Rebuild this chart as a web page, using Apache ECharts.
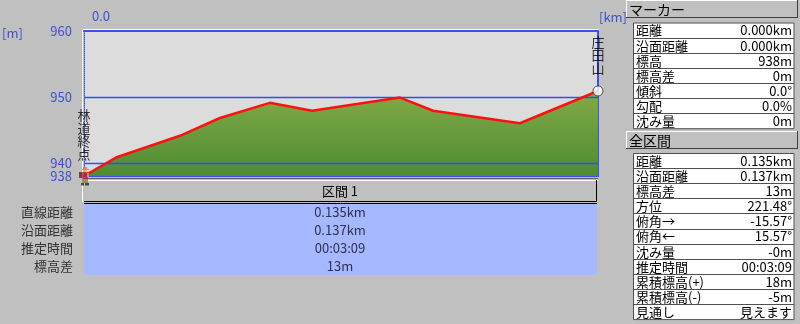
<!DOCTYPE html>
<html><head><meta charset="utf-8">
<script src="https://cdn.jsdelivr.net/npm/echarts@6/dist/echarts.min.js"></script>
<style>html,body{margin:0;padding:0;background:#c0c0c0;}#c{width:800px;height:324px;}</style>
</head><body><div id="c"></div>
<script>
// ---- data ----
const distanceKm = [0, 0.0084, 0.0252, 0.0357, 0.0488, 0.0599, 0.0712, 0.0830, 0.0917, 0.1145, 0.1350];
const elevationM = [938, 940.8, 944.1, 946.8, 949.1, 947.9, 948.9, 949.9, 947.9, 946.0, 950.9];
const yTickValues = [938, 940, 950, 960];
const gridLineValues = [940, 950];
const xTickLabels = ['0.0'];
const endNames = ['林道終点', '庄田山'];
const sectionTitle = '区間 1';
const sectionLabels = ['直線距離', '沿面距離', '推定時間', '標高差'];
const sectionValues = ['0.135km', '0.137km', '00:03:09', '13m'];
const markerTitle = 'マーカー';
const markerLabels = ['距離', '沿面距離', '標高', '標高差', '傾斜', '勾配', '沈み量'];
const markerValues = ['0.000km', '0.000km', '938m', '0m', '0.0°', '0.0%', '0m'];
const totalTitle = '全区間';
const totalLabels = ['距離', '沿面距離', '標高差', '方位', '俯角→', '俯角←', '沈み量', '推定時間', '累積標高(+)', '累積標高(-)', '見通し'];
const totalValues = ['0.135km', '0.137km', '13m', '221.48°', '-15.57°', '15.57°', '-0m', '00:03:09', '18m', '-5m', '見えます'];

const FONT = '"Noto Sans CJK JP", "Noto Sans", sans-serif';
const BLUE = '#3a4ff0';
const GRID_BLUE = '#2f4cff';
const LABEL_BLUE = '#3f50cc';

const hikerSvg = "<svg xmlns='http://www.w3.org/2000/svg' width='12' height='19' shape-rendering='crispEdges'>" +
  "<rect x='5' y='0' width='4' height='2' fill='#e8801c'/>" +
  "<rect x='4' y='2' width='7' height='1' fill='#e8801c'/>" +
  "<rect x='5' y='3' width='4' height='2' fill='#f0b080'/>" +
  "<rect x='1' y='5' width='4' height='6' fill='#6a1a22'/>" +
  "<rect x='4' y='5' width='6' height='7' fill='#c02030'/>" +
  "<rect x='9' y='6' width='2' height='4' fill='#e0a070'/>" +
  "<rect x='4' y='12' width='6' height='4' fill='#8c7a5a'/>" +
  "<rect x='3' y='16' width='3' height='3' fill='#302418'/>" +
  "<rect x='7' y='16' width='4' height='3' fill='#302418'/>" +
  "</svg>";
const hikerSymbol = 'image://data:image/svg+xml;charset=utf-8,' + encodeURIComponent(hikerSvg);

const profile = distanceKm.map((d, i) => [d, elevationM[i]]);
const last = profile.length - 1;

const graphics = [];
function txt(x, y, s, o) {
  graphics.push({type: 'text', x: x, y: y, silent: true, z: 100,
    style: Object.assign({text: s, font: '13px ' + FONT, fill: '#000', textVerticalAlign: 'middle', textAlign: 'left'}, o || {})});
}
function rect(x, y, w, h, fill, stroke) {
  graphics.push({type: 'rect', shape: {x: x, y: y, width: w, height: h}, silent: true, z: 90,
    style: {fill: fill, stroke: stroke || null, lineWidth: 1}});
}
function line(x1, y1, x2, y2, color, w) {
  graphics.push({type: 'line', shape: {x1: x1, y1: y1, x2: x2, y2: y2}, silent: true, z: 95,
    style: {stroke: color, lineWidth: w || 1}});
}

// unit labels
txt(2, 33, '[m]', {fill: LABEL_BLUE});
txt(599, 17, '[km]', {fill: LABEL_BLUE});

// plot bevel
line(83, 29.5, 599, 29.5, '#ffffff');
line(82.5, 30, 82.5, 202, '#ffffff');
line(84, 178.5, 598, 178.5, '#606060');
line(84, 180.5, 598, 180.5, '#ffffff');

// section header and box
rect(84.5, 181, 511.5, 20, '#c0c0c0');
line(596.5, 180, 596.5, 202, '#000000');
line(84, 201.5, 597, 201.5, '#000000');
txt(340, 191, sectionTitle, {textAlign: 'center'});
rect(84, 203, 513, 72, '#a6b8ff');
line(84, 203.5, 597, 203.5, '#000000');
const secY = [212.5, 230.5, 248, 266];
sectionLabels.forEach((s, i) => txt(73, secY[i], s, {textAlign: 'right', fill: '#333333'}));
sectionValues.forEach((s, i) => txt(340, secY[i], s, {textAlign: 'center', fill: '#303050'}));

// right panels
function header(y, h, title) {
  rect(626, y, 172, h, '#c0c0c0');
  line(626, y + 0.5, 798, y + 0.5, '#ffffff');
  line(626.5, y, 626.5, y + h, '#ffffff');
  line(626, y + h - 0.5, 798, y + h - 0.5, '#404040');
  line(797.5, y, 797.5, y + h, '#404040');
  txt(629, y + h / 2 + 0.5, title, {font: '14px ' + FONT});
}
function table(top, labels, values) {
  const rh = 15.1;
  rect(633.5, top + 0.5, 160.5, rh * labels.length, '#ffffff', '#505050');
  labels.forEach((s, i) => {
    const y = top + rh * i;
    if (i > 0) line(634, Math.round(y) + 0.5, 794, Math.round(y) + 0.5, '#505050');
    txt(636, y + rh / 2 + 0.5, s);
    txt(792, y + rh / 2 + 0.5, values[i], {textAlign: 'right'});
  });
}
header(0, 18, markerTitle);
table(22.5, markerLabels, markerValues);
header(131, 18, totalTitle);
table(153, totalLabels, totalValues);

const option = {
  backgroundColor: '#c0c0c0',
  animation: false,
  textStyle: {fontFamily: FONT},
  grid: {left: 84, right: 202, top: 31, bottom: 148, show: true, backgroundColor: '#dcdcdc', borderWidth: 0},
  xAxis: [
    {type: 'value', min: 0, max: 0.135, position: 'bottom',
      axisLine: {show: true, onZero: false, lineStyle: {color: BLUE, width: 2}},
      axisTick: {show: false}, axisLabel: {show: false}, splitLine: {show: false}},
    {type: 'value', min: 0, max: 0.135, position: 'top',
      axisLine: {show: true, onZero: false, lineStyle: {color: BLUE, width: 2}},
      axisTick: {show: false}, splitLine: {show: false},
      axisLabel: {show: true, customValues: [0], formatter: () => xTickLabels[0], color: LABEL_BLUE,
        fontSize: 13, fontFamily: FONT, align: 'left', padding: [0, 0, 0, 8], margin: 8}}
  ],
  yAxis: [
    {type: 'value', min: 938, max: 960, position: 'left',
      axisLine: {show: true, onZero: false, lineStyle: {color: BLUE, width: 1, type: [1, 1]}},
      axisTick: {show: false}, splitLine: {show: false},
      axisLabel: {show: true, customValues: yTickValues, color: LABEL_BLUE, fontSize: 13, fontFamily: FONT, margin: 12}},
    {type: 'value', min: 938, max: 960, position: 'right',
      axisLine: {show: true, onZero: false, lineStyle: {color: BLUE, width: 2}},
      axisTick: {show: false}, splitLine: {show: false}, axisLabel: {show: false}}
  ],
  series: [
    {type: 'line', data: profile, symbol: 'none', z: 2,
      lineStyle: {width: 0},
      areaStyle: {origin: 'start', opacity: 1,
        color: new echarts.graphic.LinearGradient(0, 0, 0, 1, [{offset: 0, color: '#82aa45'}, {offset: 1, color: '#4f8b35'}])},
      markLine: {silent: true, symbol: 'none', label: {show: false}, z: 5,
        lineStyle: {color: GRID_BLUE, width: 1.3, type: 'solid'},
        data: gridLineValues.map(v => ({yAxis: v}))}},
    {type: 'line', data: profile, symbol: 'none', z: 8,
      lineStyle: {color: '#ff1010', width: 2.5}},
    {type: 'scatter', z: 120, clip: false,
      label: {show: true, position: 'top', color: '#000', fontSize: 13, fontFamily: FONT, lineHeight: 13,
        formatter: p => p.name.split('').join('\n')},
      labelLayout: {hideOverlap: false},
      data: [
        {name: endNames[0], value: profile[0], symbol: hikerSymbol, symbolSize: [12, 19], label: {distance: 6}},
        {name: endNames[1], value: profile[last], symbol: 'circle', symbolSize: 10,
          itemStyle: {color: '#ffffff', borderColor: '#303030', borderWidth: 1}, label: {distance: 11}}
      ]}
  ],
  graphic: graphics
};
const chart = echarts.init(document.getElementById('c'), null, {renderer: 'canvas'});
chart.setOption(option);
</script></body></html>
